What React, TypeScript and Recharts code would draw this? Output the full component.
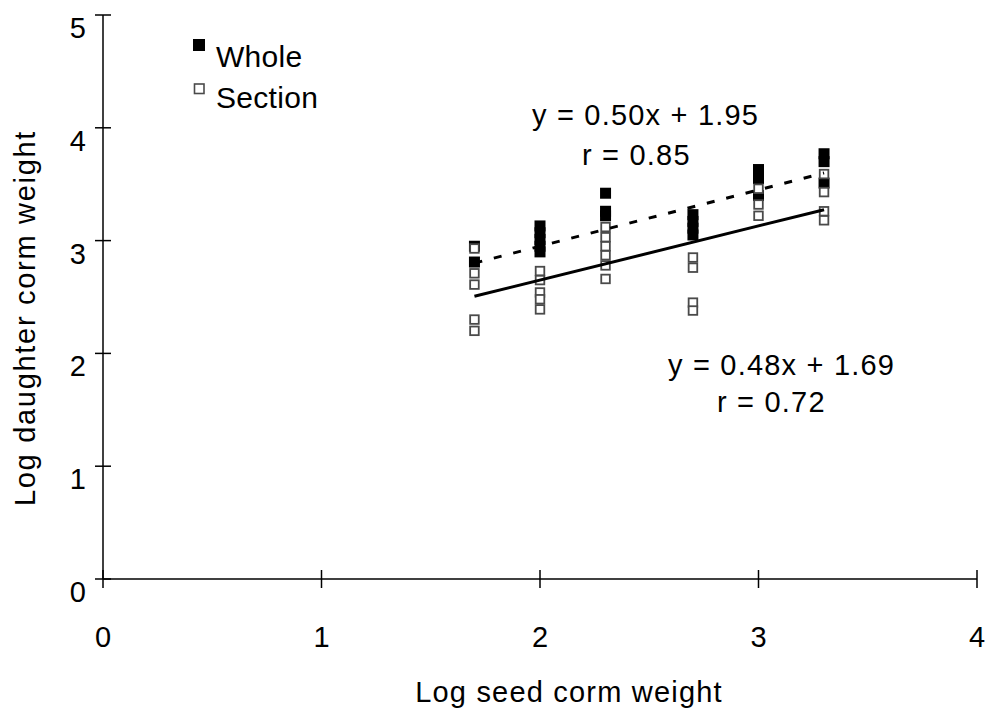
import React from "react";
import { ComposedChart, Scatter, XAxis, YAxis, Customized } from "recharts";

const xTicks = [0, 1, 2, 3, 4];
const yTicks = [0, 1, 2, 3, 4, 5];
const seedLevels = [1.7, 2.0, 2.3, 2.7, 3.0, 3.3];
const wholeValues = [
  [2.95, 2.81],
  [3.13, 3.07, 3.01, 2.95, 2.9],
  [3.42, 3.26, 3.22],
  [3.23, 3.17, 3.11, 3.05],
  [3.63, 3.55, 3.4],
  [3.77, 3.7, 3.51],
];
const sectionValues = [
  [2.93, 2.71, 2.61, 2.3, 2.2],
  [2.73, 2.65, 2.54, 2.48, 2.39],
  [3.12, 3.03, 2.95, 2.87, 2.78, 2.66],
  [2.85, 2.76, 2.45, 2.38],
  [3.46, 3.32, 3.22],
  [3.59, 3.43, 3.26, 3.18],
];
const wholeFit = { slope: 0.5, intercept: 1.95, eq: "y = 0.50x + 1.95", r: "r = 0.85" };
const sectionFit = { slope: 0.48, intercept: 1.69, eq: "y = 0.48x + 1.69", r: "r = 0.72" };
const fitRange = [1.7, 3.3];
const legendNames = ["Whole", "Section"];
const xTitle = "Log seed corm weight";
const yTitle = "Log daughter corm weight";

const toPoints = (vals: number[][]) =>
  vals.flatMap((col, i) => col.map((v) => ({ x: seedLevels[i], y: v })));
const wholeData = toPoints(wholeValues);
const sectionData = toPoints(sectionValues);
const fitLine = (f: { slope: number; intercept: number }) =>
  fitRange.map((x) => ({ x, y: f.slope * x + f.intercept }));

const FONT = "'Liberation Sans', Arial, sans-serif";

const XTick = (props: any) => {
  const { x, y, payload } = props;
  return (
    <g>
      <line x1={x} x2={x} y1={y - 9} y2={y + 9} stroke="#000" strokeWidth={1.5} />
      <text x={x} y={y + 68} textAnchor="middle" fontSize={29} fontFamily={FONT} fill="#000">
        {payload.value}
      </text>
    </g>
  );
};

const YTick = (props: any) => {
  const { x, y, payload } = props;
  return (
    <g>
      <line x1={x - 8} x2={x + 8} y1={y} y2={y} stroke="#000" strokeWidth={1.5} />
      <text x={x - 17} y={y + 23} textAnchor="end" fontSize={29} fontFamily={FONT} fill="#000">
        {payload.value}
      </text>
    </g>
  );
};

const FilledSquare = (props: any) => {
  const { cx, cy } = props;
  return <rect x={cx - 5.5} y={cy - 5.5} width={11} height={11} fill="#000" />;
};
const OpenSquare = (props: any) => {
  const { cx, cy } = props;
  return (
    <rect x={cx - 4.3} y={cy - 4.3} width={8.6} height={8.6} fill="#fff" stroke="#4a4a4a" strokeWidth={1.8} />
  );
};
const NoShape = () => <g />;

const Annotations = () => {
  const t = { fontFamily: FONT, fontSize: 29, fill: "#000" } as const;
  return (
    <g>
      <rect x={193} y={39} width={12} height={12} fill="#000" />
      <text x={216} y={67} {...t} fontSize={30} letterSpacing={0.3}>{legendNames[0]}</text>
      <rect x={194.5} y={84} width={9.5} height={9.5} fill="#fff" stroke="#4a4a4a" strokeWidth={1.6} />
      <text x={216} y={108} {...t} fontSize={30} letterSpacing={0.3}>{legendNames[1]}</text>

      <text x={532} y={125} {...t} letterSpacing={1.2}>{wholeFit.eq}</text>
      <text x={582} y={165} {...t} letterSpacing={1.2}>{wholeFit.r}</text>
      <text x={668} y={375} {...t} letterSpacing={1.2}>{sectionFit.eq}</text>
      <text x={717} y={412} {...t} letterSpacing={1.2}>{sectionFit.r}</text>

      <text x={569} y={702} textAnchor="middle" {...t} letterSpacing={1.2}>{xTitle}</text>
      <text
        x={0}
        y={0}
        textAnchor="middle"
        {...t}
        letterSpacing={1.7}
        transform="translate(35, 318) rotate(-90)"
      >
        {yTitle}
      </text>
    </g>
  );
};

export default function App() {
  return (
    <div style={{ position: "absolute", left: 0, top: 0, background: "#fff" }}>
      <ComposedChart
        width={990}
        height={712}
        margin={{ top: 15, right: 13, bottom: 73, left: 43 }}
      >
        <XAxis
          type="number"
          dataKey="x"
          domain={[0, 4]}
          ticks={xTicks}
          height={60}
          tickSize={0}
          tickMargin={0}
          tickLine={false}
          tick={<XTick />}
          axisLine={{ stroke: "#000", strokeWidth: 1.5 }}
          allowDataOverflow
        />
        <YAxis
          type="number"
          dataKey="y"
          domain={[0, 5]}
          ticks={yTicks}
          width={60}
          tickSize={0}
          tickMargin={0}
          tickLine={false}
          tick={<YTick />}
          axisLine={{ stroke: "#000", strokeWidth: 1.5 }}
          allowDataOverflow
        />
        <Scatter data={wholeData} shape={<FilledSquare />} isAnimationActive={false} />
        <Scatter data={sectionData} shape={<OpenSquare />} isAnimationActive={false} />
        <Scatter
          data={fitLine(wholeFit)}
          line={{ stroke: "#000", strokeWidth: 3, strokeDasharray: "8 12" }}
          shape={<NoShape />}
          isAnimationActive={false}
        />
        <Scatter
          data={fitLine(sectionFit)}
          line={{ stroke: "#000", strokeWidth: 3 }}
          shape={<NoShape />}
          isAnimationActive={false}
        />
        <Customized component={Annotations} />
      </ComposedChart>
    </div>
  );
}
